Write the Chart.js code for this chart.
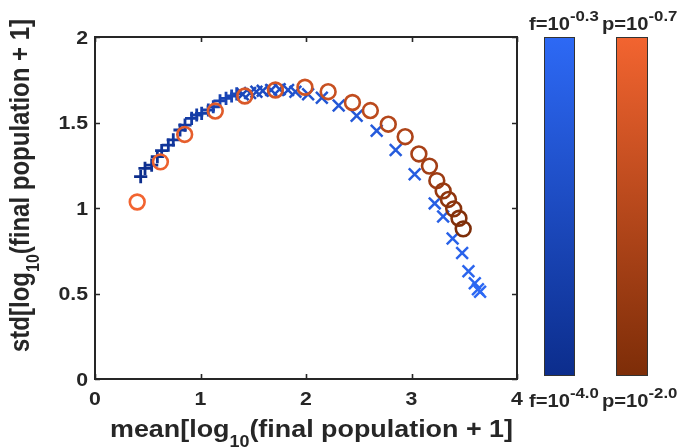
<!DOCTYPE html>
<html>
<head>
<meta charset="utf-8">
<script src="https://cdn.jsdelivr.net/npm/chart.js@4"></script>
<style>
html,body{margin:0;padding:0;background:#fff;}
canvas{display:block;}
</style>
</head>
<body>
<canvas id="c" width="683" height="447"></canvas>
<script>
// ---- data ----
const circleX = [0.40,0.62,0.85,1.14,1.42,1.71,1.99,2.21,2.44,2.61,2.78,2.94,3.07,3.17,3.24,3.30,3.35,3.40,3.45,3.49];
const circleY = [1.035,1.27,1.43,1.567,1.655,1.69,1.706,1.68,1.617,1.57,1.49,1.417,1.316,1.245,1.16,1.10,1.05,0.995,0.94,0.878];

const crossX = [0.433,0.474,0.537,0.591,0.632,0.695,0.742,0.806,0.853,0.916,0.964,1.011,1.074,1.121,1.185,1.242,1.295,1.343,
                1.40,1.47,1.53,1.59,1.67,1.75,1.83,1.90,2.02,2.15,2.31,2.48,2.67,2.85,3.03,3.22,3.30,3.39,3.48,3.54,3.60,3.63,3.65];
const crossY = [1.183,1.232,1.251,1.300,1.335,1.368,1.398,1.456,1.485,1.524,1.544,1.553,1.573,1.592,1.627,1.641,1.655,1.667,
                1.665,1.672,1.68,1.685,1.69,1.695,1.69,1.68,1.665,1.645,1.60,1.54,1.452,1.339,1.198,1.027,0.95,0.822,0.737,0.63,0.56,0.525,0.51];
const plusCount = 18; // densely packed low-x markers appear as "+"

const xTicks = [0,1,2,3,4];
const yTicks = [0,0.5,1,1.5,2];
const xTickLabels = ['0','1','2','3','4'];
const yTickLabels = ['0','0.5','1','1.5','2'];

const fLabels = {top:'-0.3', bottom:'-4.0'};
const pLabels = {top:'-0.7', bottom:'-2.0'};

// ---- styles ----
const blueLight = [45,105,245], blueDark = [12,45,140];
const orangeLight = [242,100,48], orangeDark = [125,45,8];
const TXT = '#262626';
const FONT = '"Liberation Sans", Arial, sans-serif';
const SX = 1.12;

function mix(a,b,t){return 'rgb('+a.map((v,i)=>Math.round(v+(b[i]-v)*t)).join(',')+')';}

const crossColors = crossX.map((_,i)=>mix(blueDark,blueLight,i/(crossX.length-1)));
const circleColors = circleX.map((_,i)=>mix(orangeLight,orangeDark,i/(circleX.length-1)));

function drawParts(ctx, parts, x, y){
  let cx = x;
  parts.forEach(p=>{
    ctx.font = 'bold '+p.size+'px '+FONT;
    ctx.fillText(p.t, cx, y + (p.dy||0));
    cx += ctx.measureText(p.t).width;
  });
}

const decor = {
  id:'decor',
  afterDatasetsDraw(chart){
    const ctx = chart.ctx, a = chart.chartArea, xs = chart.scales.x, ys = chart.scales.y;
    ctx.save();
    ctx.strokeStyle = TXT;
    ctx.lineWidth = 2;
    ctx.strokeRect(a.left, a.top, a.right-a.left, a.bottom-a.top);
    ctx.lineWidth = 1.6;
    ctx.beginPath();
    xTicks.forEach(v=>{
      const px = Math.round(xs.getPixelForValue(v))+0.5;
      ctx.moveTo(px,a.bottom); ctx.lineTo(px,a.bottom-5);
      ctx.moveTo(px,a.top); ctx.lineTo(px,a.top+5);
    });
    yTicks.forEach(v=>{
      const py = Math.round(ys.getPixelForValue(v))+0.5;
      ctx.moveTo(a.left,py); ctx.lineTo(a.left+5,py);
      ctx.moveTo(a.right,py); ctx.lineTo(a.right-5,py);
    });
    ctx.stroke();

    ctx.fillStyle = TXT;
    ctx.font = 'bold 19px '+FONT;
    ctx.textBaseline = 'alphabetic';
    xTicks.forEach((v,i)=>{
      const px = xs.getPixelForValue(v);
      ctx.save(); ctx.translate(px, 405); ctx.scale(SX,1);
      ctx.textAlign='center'; ctx.fillText(xTickLabels[i],0,0); ctx.restore();
    });
    yTicks.forEach((v,i)=>{
      const py = ys.getPixelForValue(v);
      ctx.save(); ctx.translate(a.left-7, py+6.8); ctx.scale(SX,1);
      ctx.textAlign='right'; ctx.fillText(yTickLabels[i],0,0); ctx.restore();
    });

    ctx.textAlign='left';
    ctx.save(); ctx.translate(110, 437); ctx.scale(SX,1);
    drawParts(ctx,[{t:'mean[log',size:24},{t:'10',size:16,dy:10},{t:'(final population + 1]',size:24}],0,0);
    ctx.restore();

    ctx.save(); ctx.translate(29, 352); ctx.rotate(-Math.PI/2); ctx.scale(1,SX);
    drawParts(ctx,[{t:'std[log',size:24},{t:'10',size:16,dy:9}, {t:'(final population + 1]',size:24}],0,0);
    ctx.restore();

    const bars = [
      {x:544,w:31,top:blueLight,bot:blueDark,name:'f',lab:fLabels,lx:529},
      {x:616,w:32,top:orangeLight,bot:orangeDark,name:'p',lab:pLabels,lx:602}
    ];
    const bTop = 37, bBot = 376;
    bars.forEach(b=>{
      const g = ctx.createLinearGradient(0,bTop,0,bBot);
      g.addColorStop(0,mix(b.top,b.top,0)); g.addColorStop(1,mix(b.bot,b.bot,0));
      ctx.fillStyle = g;
      ctx.fillRect(b.x,bTop,b.w,bBot-bTop);
      ctx.strokeStyle = '#333'; ctx.lineWidth = 1;
      ctx.strokeRect(b.x+0.5,bTop+0.5,b.w-1,bBot-bTop-1);
      ctx.fillStyle = TXT;
      ctx.save(); ctx.translate(b.lx, 29.5); ctx.scale(SX,1);
      drawParts(ctx,[{t:b.name+'=10',size:18},{t:b.lab.top,size:15,dy:-9}],0,0);
      ctx.restore();
      ctx.save(); ctx.translate(b.lx, 407); ctx.scale(SX,1);
      drawParts(ctx,[{t:b.name+'=10',size:18},{t:b.lab.bottom,size:15,dy:-9}],0,0);
      ctx.restore();
    });
    ctx.restore();
  }
};

new Chart(document.getElementById('c'), {
  type:'scatter',
  data:{
    datasets:[
      {
        label:'p',
        data: circleX.map((v,i)=>({x:v,y:circleY[i]})),
        pointStyle:'circle',
        pointRadius:7.4,
        pointBorderWidth:2.6,
        pointBackgroundColor:'rgba(0,0,0,0)',
        pointBorderColor: circleColors,
        showLine:false
      },
      {
        label:'f',
        data: crossX.map((v,i)=>({x:v,y:crossY[i]})),
        pointStyle: crossX.map((_,i)=> i<plusCount ? 'cross' : 'crossRot'),
        pointRadius: crossX.map((_,i)=> i<plusCount ? 6.6 : 8.3),
        pointBorderWidth: crossX.map((_,i)=> i<plusCount ? 2.8 : 2.5),
        pointBorderColor: crossColors,
        pointBackgroundColor: crossColors,
        showLine:false
      }
    ]
  },
  options:{
    responsive:false,
    animation:false,
    devicePixelRatio:1,
    layout:{padding:{left:0,top:37,right:166,bottom:0}},
    plugins:{legend:{display:false},tooltip:{enabled:false}},
    events:[],
    scales:{
      x:{type:'linear',min:0,max:4,
         ticks:{display:false,stepSize:1},
         grid:{display:false},border:{display:false},
         afterFit(s){s.height=68;}},
      y:{type:'linear',min:0,max:2,
         ticks:{display:false,stepSize:0.5},
         grid:{display:false},border:{display:false},
         afterFit(s){s.width=95;}}
    }
  },
  plugins:[decor]
});
</script>
</body>
</html>
